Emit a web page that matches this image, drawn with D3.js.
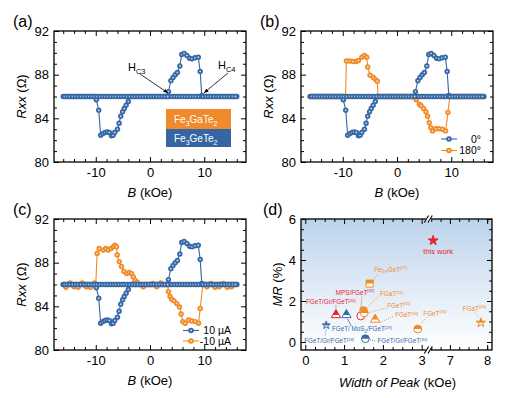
<!DOCTYPE html>
<html>
<head>
<meta charset="utf-8">
<script src="https://cdn.jsdelivr.net/npm/d3@7"></script>
<style>
  body { margin: 0; background: #fff; }
  svg { font-family: "Liberation Sans", Arial, sans-serif; }
</style>
</head>
<body>
<svg id="fig" width="507" height="398"></svg>
<script>
// ---------------- data ----------------
// field points of the two sweeps (kOe); away from the loops Rxx sits at the baseline
const fieldUp = [-16, -15.5, -15, -14.5, -14, -13.5, -13, -12.5, -12, -11.5, -11, -10.5, -10, -9.5, -9, -8.5, -8, -7.5, -7, -6.5, -6, -5.5, -5, -4.5, -4, -3.5, -3, -2.5, -2, -1.5, -1, -0.5, 0, 0.5, 1, 1.5, 2, 2.5, 3, 3.5, 4, 4.5, 5, 5.5, 6, 6.5, 7, 7.5, 8, 8.5, 9, 9.5, 10, 10.5, 11, 11.5, 12, 12.5, 13, 13.5, 14, 14.5, 15, 15.5, 16];
const fieldDown = [-15.75, -15.25, -14.75, -14.25, -13.75, -13.25, -12.75, -12.25, -11.75, -11.25, -10.75, -10.25, -9.75, -9.25, -8.75, -8.25, -7.75, -7.25, -6.75, -6.25, -5.75, -5.25, -4.75, -4.25, -3.75, -3.25, -2.75, -2.25, -1.75, -1.25, -0.75, -0.25, 0.25, 0.75, 1.25, 1.75, 2.25, 2.75, 3.25, 3.75, 4.25, 4.75, 5.25, 5.75, 6.25, 6.75, 7.25, 7.75, 8.25, 8.75, 9.25, 9.75, 10.25, 10.75, 11.25, 11.75, 12.25, 12.75, 13.25, 13.75, 14.25, 14.75, 15.25, 15.75];
const baseRxx = 86;

// Fe3GeTe2 loop (0 deg / 10 uA)
const blueLeftB  = [-9.9, -9.45, -9.1, -8.7, -8.3, -7.9, -7.5, -7.1, -6.8, -6.5, -6.0, -5.7, -5.4, -5.05, -4.75, -4.4, -4.0];
const blueLeftR  = [85.7, 84.75, 82.45, 82.6, 82.7, 82.75, 82.7, 82.4, 82.45, 82.7, 83.0, 83.55, 84.2, 84.6, 84.9, 85.2, 85.55];
const blueRightB = [3.4, 3.85, 4.25, 4.65, 5.05, 5.5, 5.85, 6.3, 6.8, 7.3, 7.75, 8.3, 8.9, 9.25, 9.55];
const blueRightR = [86.45, 87.45, 87.75, 88.0, 88.2, 88.8, 89.85, 89.95, 89.75, 89.5, 89.45, 89.55, 89.6, 88.3, 86.1];

// 180 deg
const rotLeftB  = [-9.33, -8.73, -8.12, -7.5, -7.1, -6.48, -6.0, -5.58, -5.4, -4.97, -4.36, -3.94, -3.64];
const rotLeftR  = [89.25, 89.25, 89.2, 89.2, 89.3, 89.6, 89.75, 89.6, 88.7, 87.95, 87.75, 87.55, 87.4];
const rotRightB = [3.52, 4.12, 4.42, 4.9, 5.33, 5.64, 5.94, 6.24, 6.55, 7.15, 7.76, 8.36, 8.97, 9.39];
const rotRightR = [85.7, 85.3, 85.15, 84.9, 84.6, 84.2, 83.6, 83.15, 82.85, 83.05, 83.05, 83.0, 82.85, 84.55];

// -10 uA
const negLeftB  = [-9.75, -9.38, -8.64, -8.15, -7.7, -7.2, -6.79, -6.48, -6.17, -6.05, -5.68, -5.25, -4.81, -4.32, -3.83, -3.4, -3.09, -2.78, -2.35];
const negLeftR  = [88.85, 89.3, 89.15, 89.3, 89.15, 89.3, 89.45, 89.6, 89.45, 88.7, 88.1, 87.65, 87.2, 87.0, 87.1, 87.0, 86.7, 86.4, 86.2];
const negRightB = [3.4, 3.7, 4.0, 4.44, 4.94, 5.43, 5.74, 6.05, 6.48, 7.1, 7.7, 8.33, 8.95, 9.26];
const negRightR = [85.35, 84.9, 84.65, 84.5, 84.25, 83.95, 83.3, 82.6, 82.45, 82.75, 82.65, 82.6, 82.45, 83.8];
const negNoiseB = [-15.5, -14.75, -14, -13.25, -12.5, -11.75, -11, -10.25, -1.25, 0.5, 1.25, 2, 10.5, 11.25, 12, 12.75, 13.5, 14.25, 15];
const negNoiseR = [85.75, 86.15, 85.8, 85.75, 86.15, 85.8, 85.75, 86.15, 85.8, 86.1, 85.8, 86.15, 85.8, 86.1, 85.75, 85.8, 86.1, 85.75, 85.8];

const rxxTicks = [80, 84, 88, 92];
const rxxMinor = [81, 82, 83, 85, 86, 87, 89, 90, 91];
const fieldTicks = [-10, 0, 10];
const fieldMinor = [-16, -14, -12, -8, -6, -4, -2, 2, 4, 6, 8, 12, 14, 16];

// panel d: width of peak (kOe) vs MR (%)
const refLabel = ["this work", "Fe_{3-x}GeT^{[27]}", "MPS/FGeT^{[32]}", "FGaT^{[31]}", "FGeT^{[33]}", "FGaT^{[34]}", "FGeT^{[35]}", "FGaT^{[26]}", "FGeT/Gr/FGeT^{[24]}", "FGeT/ MoS_{2}/FGeT^{[29]}", "FGeT/Gr/FGeT^{[28]}", "FGeT/Gr/FGeT^{[30]}"];
const peakWidth = [6.55, 1.66, 1.43, 1.5, 1.52, 1.8, 2.9, 7.83, 0.79, 1.06, 0.54, 1.55];
const mrValue   = [4.95, 2.85, 1.27, 1.53, 1.42, 1.1, 0.63, 0.94, 1.32, 1.32, 0.82, 0.16];
const refGroup  = ["red", "orange", "red", "orange", "orange", "orange", "orange", "orange", "red", "blue", "blue", "blue"];
const refShape  = ["star", "square", "circle", "circle", "circle", "triangle", "circle", "star", "triangle", "triangle", "star", "circle"];
const refFill   = ["full", "half", "open", "half", "half", "half", "half", "half", "half", "half", "half", "half"];
const mrTicks = [0, 2, 4, 6];
const mrMinor = [0.5, 1, 1.5, 2.5, 3, 3.5, 4.5, 5, 5.5];
const widthTicks = [0, 1, 2, 3, 7, 8];
const widthMinor = [0.25, 0.5, 0.75, 1.25, 1.5, 1.75, 2.25, 2.5, 2.75, 6.5, 6.75, 7.25, 7.5, 7.75, 8.0];

// ---------------- drawing ----------------
const blue = "#3467a6", orange = "#f08a26", red = "#e5252f";
const blueLight = "#b9cfea", orangeLight = "#fcd9b3";
const groupColor = { red: red, orange: orange, blue: "#3a69a8" };

const svg = d3.select("#fig");
const defs = svg.append("defs");
defs.append("clipPath").attr("id", "topHalf")
  .append("rect").attr("x", -12).attr("y", -12).attr("width", 24).attr("height", 12);
const grad = defs.append("linearGradient").attr("id", "bgGrad")
  .attr("x1", 0).attr("y1", 0).attr("x2", 0).attr("y2", 1);
grad.append("stop").attr("offset", "0%").attr("stop-color", "#bcd3eb");
grad.append("stop").attr("offset", "55%").attr("stop-color", "#e2ecf6");
grad.append("stop").attr("offset", "100%").attr("stop-color", "#ffffff");

const fmt = d => String(d);

function frame(g, w, h, x, y, xt, xm, yt, ym) {
  const clean = s => s.call(a => a.select(".domain").remove()).attr("font-size", 13).attr("font-family", null);
  g.append("g").attr("transform", `translate(0,${h})`)
    .call(d3.axisBottom(x).tickValues(xt).tickSize(-5).tickPadding(6).tickFormat(fmt)).call(clean);
  g.append("g").attr("transform", `translate(0,${h})`)
    .call(d3.axisBottom(x).tickValues(xm).tickSize(-3).tickFormat("")).call(clean);
  g.append("g").call(d3.axisTop(x).tickValues(xt).tickSize(-5).tickFormat("")).call(clean);
  g.append("g").call(d3.axisTop(x).tickValues(xm).tickSize(-3).tickFormat("")).call(clean);
  g.append("g").call(d3.axisLeft(y).tickValues(yt).tickSize(-5).tickPadding(5).tickFormat(fmt)).call(clean);
  g.append("g").call(d3.axisLeft(y).tickValues(ym).tickSize(-3).tickFormat("")).call(clean);
  g.append("g").attr("transform", `translate(${w},0)`)
    .call(d3.axisRight(y).tickValues(yt).tickSize(-5).tickFormat("")).call(clean);
  g.append("g").attr("transform", `translate(${w},0)`)
    .call(d3.axisRight(y).tickValues(ym).tickSize(-3).tickFormat("")).call(clean);
  g.selectAll(".tick line").attr("stroke-width", 1);
  g.append("rect").attr("width", w).attr("height", h)
    .attr("fill", "none").attr("stroke", "#000").attr("stroke-width", 1.3);
}

function sweep(field, loopB, loopR, noiseB, noiseR) {
  const noise = new Map((noiseB || []).map((b, i) => [b, noiseR[i]]));
  const lo = loopB[0], hi = loopB[loopB.length - 1];
  const pts = [];
  field.filter(b => b < lo).forEach(b => pts.push([b, noise.has(b) ? noise.get(b) : baseRxx]));
  loopB.forEach((b, i) => pts.push([b, loopR[i]]));
  field.filter(b => b > hi).forEach(b => pts.push([b, noise.has(b) ? noise.get(b) : baseRxx]));
  return pts;
}

function curve(g, x, y, pts, color, light) {
  g.append("path").datum(pts)
    .attr("d", d3.line().x(d => x(d[0])).y(d => y(d[1])))
    .attr("fill", "none").attr("stroke", color).attr("stroke-width", 1.1);
  const m = g.append("g").selectAll("g").data(pts).join("g")
    .attr("transform", d => `translate(${x(d[0])},${y(d[1])})`);
  m.append("circle").attr("r", 2.7).attr("fill", color);
  m.append("circle").attr("r", 1.0).attr("fill", light);
}

function rxxPanel(x0, y0, label) {
  const w = 192, h = 131;
  const g = svg.append("g").attr("transform", `translate(${x0},${y0})`);
  const x = d3.scaleLinear().domain([-17.7, 17.7]).range([0, w]);
  const y = d3.scaleLinear().domain([80, 92]).range([h, 0]);
  frame(g, w, h, x, y, fieldTicks, fieldMinor, rxxTicks, rxxMinor);
  const yt = g.append("text").attr("transform", `translate(-28,${h / 2}) rotate(-90)`)
    .attr("text-anchor", "middle").attr("font-size", 13);
  yt.append("tspan").attr("font-style", "italic").text("Rxx");
  yt.append("tspan").text(" (\u03A9)");
  const xt = g.append("text").attr("x", w / 2).attr("y", h + 35).attr("text-anchor", "middle").attr("font-size", 13);
  xt.append("tspan").attr("font-style", "italic").text("B");
  xt.append("tspan").text(" (kOe)");
  svg.append("text").attr("x", x0 - 41).attr("y", y0 - 4).attr("font-size", 16).text(label);
  return { g, x, y, w, h };
}

function legendRow(g, lx, ly, color, light, txt, tx) {
  g.append("line").attr("x1", lx - 8).attr("x2", lx + 8).attr("y1", ly).attr("y2", ly)
    .attr("stroke", color).attr("stroke-width", 1.1);
  g.append("circle").attr("cx", lx).attr("cy", ly).attr("r", 2.8).attr("fill", color);
  g.append("circle").attr("cx", lx).attr("cy", ly).attr("r", 1.0).attr("fill", light);
  g.append("text").attr("x", tx).attr("y", ly + 3.5).attr("text-anchor", "end")
    .attr("font-size", 10.5).text(txt);
}

// (a)
const pa = rxxPanel(54, 31, "(a)");
curve(pa.g, pa.x, pa.y, sweep(fieldUp, blueLeftB, blueLeftR), blue, blueLight);
curve(pa.g, pa.x, pa.y, sweep(fieldDown, blueRightB, blueRightR), blue, blueLight);
// stack legend
const stack = pa.g.append("g").attr("transform", "translate(112,78)");
stack.append("rect").attr("width", 65).attr("height", 20).attr("fill", "#f08a2c");
stack.append("rect").attr("y", 20).attr("width", 65).attr("height", 18).attr("fill", "#3565a3");
function chem(parent, xx, yy, parts) {
  const t = parent.append("text").attr("x", xx).attr("y", yy).attr("fill", "#fff").attr("font-size", 10);
  parts.forEach(p => {
    const s = t.append("tspan").text(p[0]);
    if (p[1]) s.attr("font-size", 7).attr("dy", 2.5); else s.attr("dy", 0);
    if (!p[1] && t.selectAll("tspan").size() > 1) s.attr("dy", -2.5);
  });
}
chem(stack, 8, 14, [["Fe"], ["3", 1], ["GaTe"], ["2", 1]]);
chem(stack, 8, 33, [["Fe"], ["3", 1], ["GeTe"], ["2", 1]]);
// Hc annotations
function hc(g, tx, ty, sub, ax, ay, bx, by) {
  const t = g.append("text").attr("x", tx).attr("y", ty).attr("font-size", 11);
  t.append("tspan").text("H");
  t.append("tspan").attr("font-size", 7.5).attr("dy", 2.5).text(sub);
  g.append("line").attr("x1", ax).attr("y1", ay).attr("x2", bx).attr("y2", by)
    .attr("stroke", "#000").attr("stroke-width", 0.8).attr("marker-end", "url(#arrow)");
}
defs.append("marker").attr("id", "arrow").attr("viewBox", "0 0 10 10").attr("refX", 9).attr("refY", 5)
  .attr("markerWidth", 6).attr("markerHeight", 6).attr("orient", "auto")
  .append("path").attr("d", "M0,1 L10,5 L0,9 Z").attr("fill", "#000");
hc(pa.g, 74, 40, "C3", 86, 43, pa.x(3.25), pa.y(86.35));
hc(pa.g, 164, 38, "C4", 174, 42, pa.x(10.0), pa.y(86.35));

// (b)
const pb = rxxPanel(301, 31, "(b)");
curve(pb.g, pb.x, pb.y, sweep(fieldUp, rotLeftB, rotLeftR), orange, orangeLight);
curve(pb.g, pb.x, pb.y, sweep(fieldDown, rotRightB, rotRightR), orange, orangeLight);
curve(pb.g, pb.x, pb.y, sweep(fieldUp, blueLeftB, blueLeftR), blue, blueLight);
curve(pb.g, pb.x, pb.y, sweep(fieldDown, blueRightB, blueRightR), blue, blueLight);
legendRow(pb.g, 148, 108, blue, blueLight, "0\u00B0", 180);
legendRow(pb.g, 148, 119.5, orange, orangeLight, "180\u00B0", 180);

// (c)
const pc = rxxPanel(54, 219, "(c)");
curve(pc.g, pc.x, pc.y, sweep(fieldUp, negLeftB, negLeftR, negNoiseB, negNoiseR), orange, orangeLight);
curve(pc.g, pc.x, pc.y, sweep(fieldDown, negRightB, negRightR, negNoiseB, negNoiseR), orange, orangeLight);
curve(pc.g, pc.x, pc.y, sweep(fieldUp, blueLeftB, blueLeftR), blue, blueLight);
curve(pc.g, pc.x, pc.y, sweep(fieldDown, blueRightB, blueRightR), blue, blueLight);
legendRow(pc.g, 137, 111.5, blue, blueLight, "10 \u00B5A", 177);
legendRow(pc.g, 137, 122, orange, orangeLight, "-10 \u00B5A", 177);

// (d)
(function () {
  const x0 = 301, y0 = 219, w = 191, h = 131;
  const g = svg.append("g").attr("transform", `translate(${x0},${y0})`);
  const x = d3.scaleLinear().domain([-0.11, 3.17, 6.42, 8.13]).range([0, 127.3, 127.3, w]);
  const y = d3.scaleLinear().domain([-0.39, 6]).range([h, 0]);
  g.append("rect").attr("width", w).attr("height", h).attr("fill", "url(#bgGrad)");
  frame(g, w, h, x, y, widthTicks, widthMinor, mrTicks, mrMinor);
  // axis break
  const bx = x(3.17);
  [0, h].forEach(yy => {
    g.append("rect").attr("x", bx - 2.5).attr("y", yy - 2).attr("width", 5).attr("height", 4).attr("fill", "#fff");
    [-1.8, 1.8].forEach(o => g.append("line")
      .attr("x1", bx + o - 2.2).attr("y1", yy + 3.5).attr("x2", bx + o + 2.2).attr("y2", yy - 3.5)
      .attr("stroke", "#000").attr("stroke-width", 1.1));
  });
  const yt = g.append("text").attr("transform", `translate(-19,${h / 2}) rotate(-90)`)
    .attr("text-anchor", "middle").attr("font-size", 13);
  yt.append("tspan").attr("font-style", "italic").text("MR");
  yt.append("tspan").text(" (%)");
  const xt = g.append("text").attr("x", w / 2 + 1).attr("y", h + 37).attr("text-anchor", "middle").attr("font-size", 13);
  xt.append("tspan").attr("font-style", "italic").text("Width of Peak");
  xt.append("tspan").text(" (kOe)");
  svg.append("text").attr("x", x0 - 38).attr("y", y0 - 4).attr("font-size", 16).text("(d)");

  // label layout: [dx, dy] of text start (px from marker), leader [x1,y1,x2,y2], text anchor
  const layout = [
    { dx: 5, dy: 13, a: "middle", fs: 7.5 },
    { dx: 4.5, dy: -12, lead: [4, -4, 9, -10] },
    { dx: -25, dy: -21, lead: [1, -19, 0, -5] },
    { dx: 16.5, dy: -14.5, lead: [15, -14, 3, -3] },
    { dx: 23, dy: -5, lead: [22, -5, 4, 0] },
    { dx: 20, dy: -2, lead: [5, 3, 18, -3] },
    { dx: 5.5, dy: -13.5, lead: [4, -6, 9, -12] },
    { dx: -18, dy: -12, lead: [-6, -10, -1.5, -5] },
    { dx: -30, dy: -10.5, lead: [0, -10, 0, -5] },
    { dx: -14.5, dy: 16.5, lead: [1, 4, 5, 11], solid: true },
    { dx: -22, dy: 18, lead: [0, 4, -1, 11] },
    { dx: 12, dy: 4.5, lead: [4.5, 1, 11, 2.5] }
  ];
  const shapes = { star: d3.symbolStar, square: d3.symbolSquare, circle: d3.symbolCircle, triangle: d3.symbolTriangle };
  const sizes = { star: 26, square: 50, circle: 48, triangle: 38 };

  refLabel.forEach((lab, i) => {
    const cx = x(peakWidth[i]), cy = y(mrValue[i]);
    const c = groupColor[refGroup[i]];
    const L = layout[i];
    if (L.lead) {
      g.append("line").attr("x1", cx + L.lead[0]).attr("y1", cy + L.lead[1])
        .attr("x2", cx + L.lead[2]).attr("y2", cy + L.lead[3])
        .attr("stroke", c).attr("stroke-width", 0.8)
        .attr("stroke-dasharray", L.solid ? null : "1,1.2");
    }
    const m = g.append("g").attr("transform", `translate(${cx},${cy})`);
    const sz = refShape[i] === "star" ? (i === 0 ? 30 : (refGroup[i] === "blue" ? 20 : 27)) : sizes[refShape[i]];
    const sym = d3.symbol(shapes[refShape[i]], sz)();
    m.append("path").attr("d", sym).attr("fill", refFill[i] === "full" ? c : "#fff")
      .attr("stroke", c).attr("stroke-width", 1);
    if (refFill[i] === "half") {
      m.append("path").attr("d", sym).attr("fill", c).attr("clip-path", "url(#topHalf)");
    }
    const t = g.append("text").attr("x", cx + L.dx).attr("y", cy + L.dy)
      .attr("fill", c).attr("font-size", L.fs || 6.3).attr("text-anchor", L.a || "start");
    let shift = 0;
    lab.split(/(_\{[^}]*\}|\^\{[^}]*\})/).filter(s => s.length).forEach(part => {
      let d = 0, txt = part, fs = null;
      if (part[0] === "_") { txt = part.slice(2, -1); d = 1.5; fs = 4.5; }
      else if (part[0] === "^") { txt = part.slice(2, -1); d = -2.5; fs = 4.2; }
      t.append("tspan").attr("dy", d - shift).attr("font-size", fs).text(txt);
      shift = d;
    });
  });
})();
</script>
</body>
</html>
